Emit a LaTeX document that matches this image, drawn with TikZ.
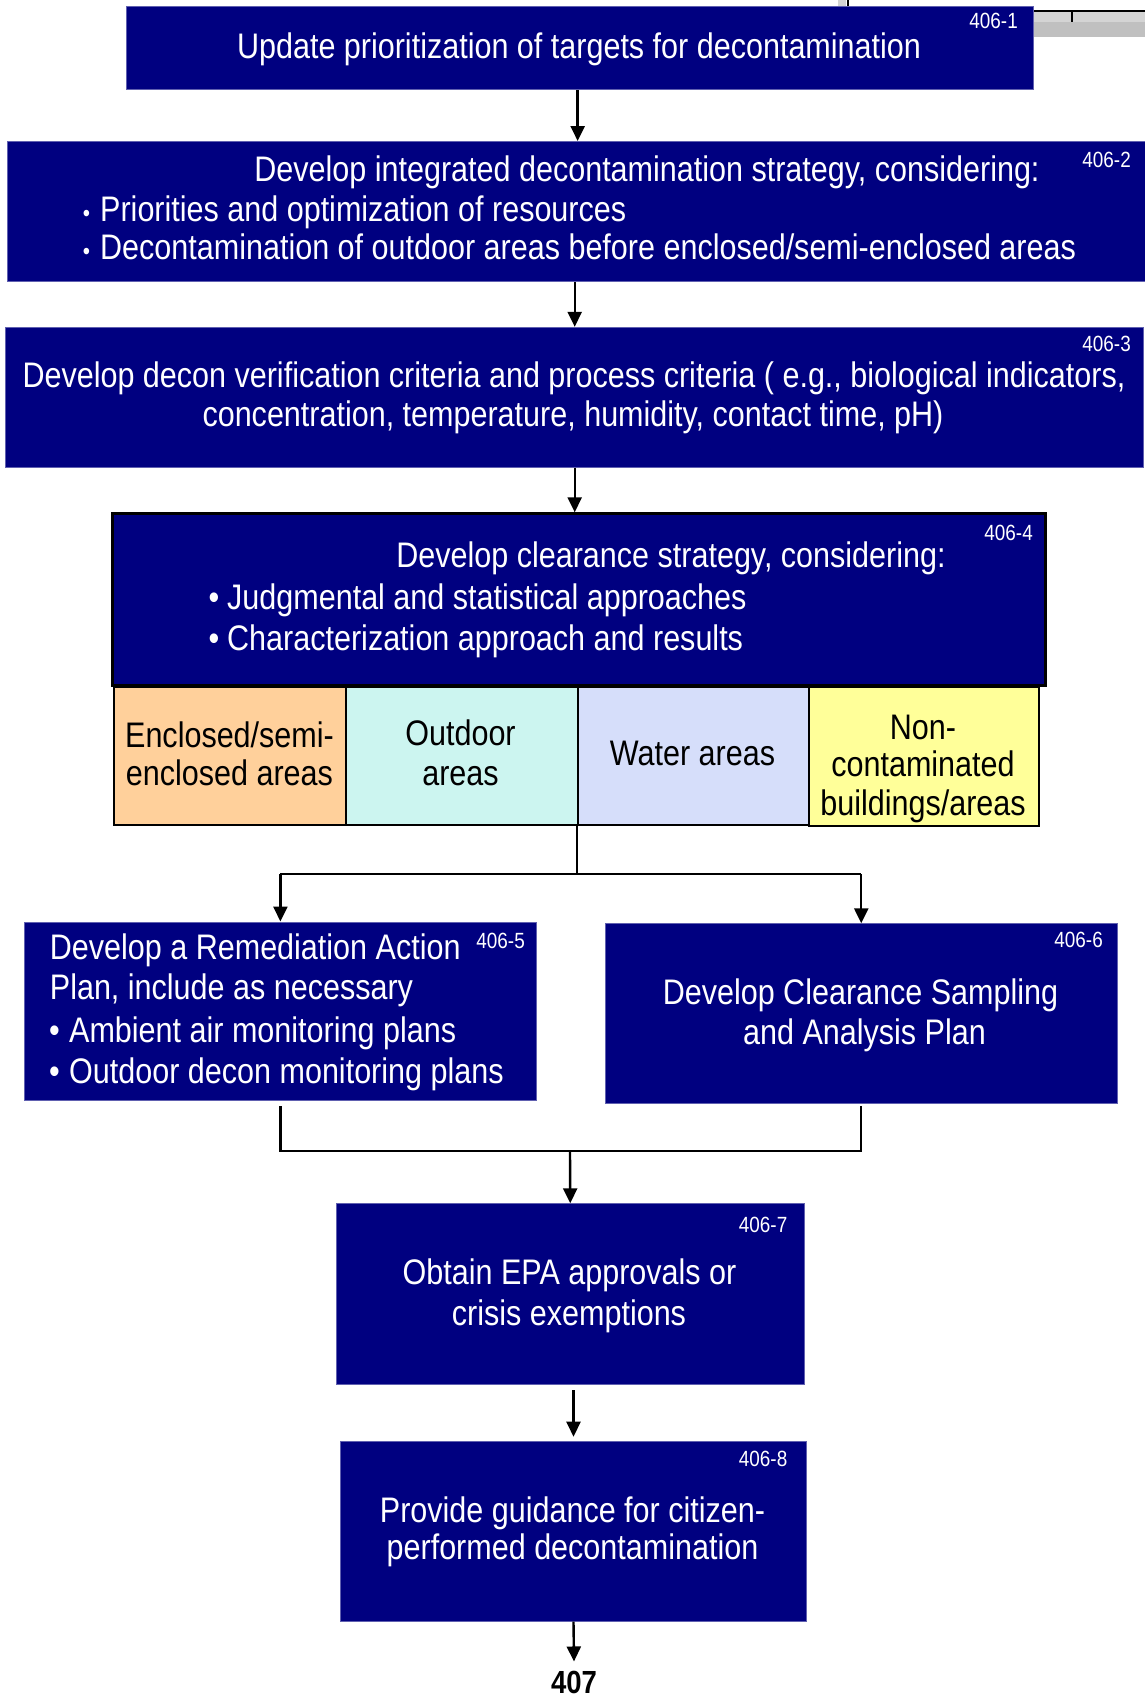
\documentclass[tikz,border=0pt]{standalone}
\usepackage{fontspec}
\setmainfont{Liberation Sans}[FakeStretch=0.86]
\usetikzlibrary{arrows.meta}

\definecolor{navy}{RGB}{0,0,128}
\definecolor{boxedge}{RGB}{96,96,176}
\definecolor{peach}{RGB}{255,208,155}
\definecolor{mint}{RGB}{204,245,240}
\definecolor{lavender}{RGB}{214,222,250}
\definecolor{paleyellow}{RGB}{255,255,153}
\definecolor{greyA}{RGB}{212,212,212}
\definecolor{greyB}{RGB}{192,192,192}

% a rectangular panel given by its top-left and bottom-right corners
\newcommand\panel[6]{%
  \node[#6, minimum width={#4-#2}, minimum height={#5-#3}] (#1) at (#2,#3) {};}

\begin{document}
\begin{tikzpicture}[x=1pt,y=-1pt,
  navybox/.style={draw=boxedge, fill=navy, line width=1pt, inner sep=0pt, anchor=north west},
  framedbox/.style={draw=black, fill=navy, line width=2.5pt, inner sep=0pt, anchor=north west},
  areabox/.style={draw=black, line width=2pt, inner sep=0pt, anchor=north west},
  txt/.style={text=white, font=\fontsize{35.5}{40}\selectfont, inner sep=0pt, anchor=base},
  ltxt/.style={txt, anchor=base west},
  dark/.style={txt, text=black},
  bul/.style={txt},
  smallbul/.style={txt, font=\fontsize{24}{28}\selectfont},
  tag/.style={text=white, font=\fontsize{22}{24}\selectfont, inner sep=0pt, anchor=base east},
  wire/.style={line width=2.4pt},
  arr/.style={line width=2.4pt, -{Triangle[length=15pt,width=14pt]}}]

\useasboundingbox (0,0) rectangle (1145,1697);
\fill[white] (0,0) rectangle (1145,1697);

% window-frame fragment peeking out at the top right
\fill[greyA] (838,0) rectangle (846,8);
\draw[line width=2.5pt] (848,0) -- (848,8);
\fill[greyA] (1020,12) rectangle (1145,21.7);
\fill[greyB] (1020,21.7) rectangle (1145,36.7);
\draw[line width=2pt] (1020,11) -- (1145,11);
\draw[line width=2pt] (1071.7,11) -- (1071.7,22);

% ---- panels ----
\panel{b1}{125.5}{6.3}{1032.5}{89}{navybox}
\panel{b2}{7.3}{141}{1147}{281}{navybox}
\panel{b3}{5.4}{326.8}{1143}{466.5}{navybox}
\panel{b4}{111}{512.3}{1044}{684.3}{framedbox}
\panel{c1}{113}{686}{345}{824}{areabox, fill=peach}
\panel{c2}{345}{686}{576.7}{824}{areabox, fill=mint}
\panel{c3}{576.7}{686}{808}{824}{areabox, fill=lavender}
\panel{c4}{808}{686}{1038}{825}{areabox, fill=paleyellow}
\panel{b5}{23.8}{921.5}{536}{1100}{navybox}
\panel{b6}{604.5}{923.3}{1117}{1103}{navybox}
\panel{b7}{335.5}{1203.3}{804}{1384}{navybox}
\panel{b8}{340}{1440.7}{806}{1620.7}{navybox}

% ---- texts ----
\node[txt] (t1) at (579,58) {Update prioritization of targets for decontamination};
\node[tag] (g1) at (1018,28.3) {406-1};

\node[txt] (t2a) at (647,181) {Develop integrated decontamination strategy, considering:};
\node[smallbul] (t2b0) at (86.5,221) {•};
\node[ltxt] (t2b) at (100,221) {Priorities and optimization of resources};
\node[smallbul] (t2c0) at (86.5,259) {•};
\node[ltxt] (t2c) at (100,259) {Decontamination of outdoor areas before enclosed/semi-enclosed areas};
\node[tag] (g2) at (1131,167) {406-2};

\node[txt] (t3a) at (574,387.6) {Develop decon verification criteria and process criteria ( e.g., biological indicators,};
\node[txt] (t3b) at (573,426.6) {concentration, temperature, humidity, contact time, pH)};
\node[tag] (g3) at (1131,351) {406-3};

\node[txt] (t4a) at (671,567.7) {Develop clearance strategy, considering:};
\node[bul] (t4b0) at (214,609) {•};
\node[ltxt] (t4b) at (227,609) {Judgmental and statistical approaches};
\node[bul] (t4c0) at (214,650) {•};
\node[ltxt] (t4c) at (227,650) {Characterization approach and results};
\node[tag] (g4) at (1033,540.7) {406-4};

\node[dark] (e1) at (229.5,747) {Enclosed/semi-};
\node[dark] (e2) at (229.5,785) {enclosed areas};
\node[dark] (o1) at (460.5,745) {Outdoor};
\node[dark] (o2) at (460.5,785) {areas};
\node[dark] (w1) at (692.5,765) {Water areas};
\node[dark] (n1) at (923,739) {Non-};
\node[dark] (n2) at (923,776.7) {contaminated};
\node[dark] (n3) at (923,815) {buildings/areas};

\node[ltxt] (t5a) at (49.7,959) {Develop a Remediation Action};
\node[ltxt] (t5b) at (49.7,999) {Plan, include as necessary};
\node[bul] (t5c0) at (54.5,1042) {•};
\node[ltxt] (t5c) at (69,1042) {Ambient air monitoring plans};
\node[bul] (t5d0) at (54.5,1083) {•};
\node[ltxt] (t5d) at (69,1083) {Outdoor decon monitoring plans};
\node[tag] (g5) at (525,948) {406-5};

\node[txt] (t6a) at (860.5,1004) {Develop Clearance Sampling};
\node[txt] (t6b) at (864.5,1044) {and Analysis Plan};
\node[tag] (g6) at (1103,947) {406-6};

\node[txt] (t7a) at (569.5,1284) {Obtain EPA approvals or};
\node[txt] (t7b) at (569,1325.7) {crisis exemptions};
\node[tag] (g7) at (787.5,1232) {406-7};

\node[txt] (t8a) at (572.5,1522) {Provide guidance for citizen-};
\node[txt] (t8b) at (572.5,1559) {performed decontamination};
\node[tag] (g8) at (787.5,1466.7) {406-8};

\node[dark, font=\fontsize{32}{36}\selectfont\bfseries] (t407) at (574,1693) {407};

% ---- connectors ----
\draw[arr] (b1.south -| b2.north) -- (b2.north);
\draw[arr] (b2.south -| b3.north) -- (b3.north);
\draw[arr] (b3.south) -- (b3.south |- b4.north);

\coordinate (split) at (576.7,874);
\draw[wire] (split |- c2.south) -- ([yshift=-1pt]split);
\draw[wire] (b5.north |- split) -- (b6.north |- split);
\draw[arr] (b5.north |- split) -- (b5.north);
\draw[arr] (b6.north |- split) -- (b6.north);

\coordinate (merge) at (570,1151);
\draw[wire] ([yshift=-5pt]b5.south) -- (b5.south |- merge) -- (b6.south |- merge) -- ([yshift=-2pt]b6.south);
\draw[arr] (merge) -- (b7.north);

\draw[arr] ([yshift=-5pt]b7.south -| b8.north) -- ([yshift=4pt]b8.north);
\draw[arr] (b8.south) -- ([yshift=9pt]t407.north);

\end{tikzpicture}
\end{document}
